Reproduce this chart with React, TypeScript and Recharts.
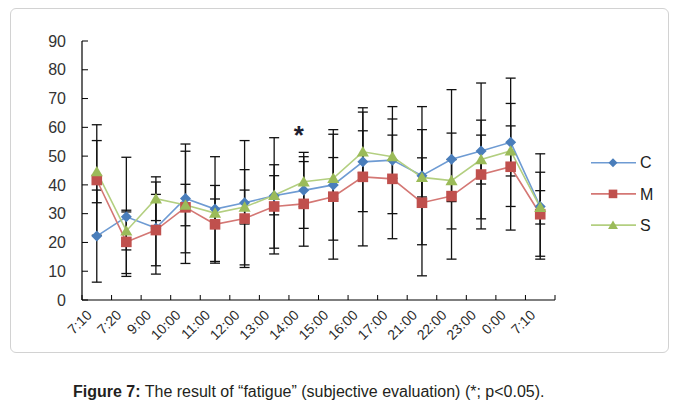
import React from 'react';
import { LineChart, Line, XAxis, YAxis, ErrorBar, ReferenceDot } from 'recharts';

const timeLabels = ['7:10', '7:20', '9:00', '10:00', '11:00', '12:00', '13:00', '14:00', '15:00', '16:00', '17:00', '21:00', '22:00', '23:00', '0:00', '7:10'];
const cMean = [22.2, 28.9, 25.0, 35.3, 31.6, 33.8, 36.2, 38.1, 40.0, 48.0, 48.6, 43.2, 48.9, 51.8, 54.8, 32.5];
const cSD = [16.0, 20.7, 16.0, 18.9, 18.2, 21.6, 20.2, 13.2, 19.2, 17.3, 18.6, 24.0, 24.2, 23.6, 22.3, 18.3];
const mMean = [41.7, 20.2, 24.3, 32.2, 26.3, 28.3, 32.5, 33.4, 35.9, 42.8, 42.1, 33.8, 36.1, 43.6, 46.3, 29.8];
const mSD = [19.2, 11.0, 12.4, 19.5, 13.5, 17.0, 14.5, 14.7, 21.7, 24.0, 20.8, 25.4, 21.9, 18.9, 22.0, 14.6];
const sMean = [44.6, 24.0, 35.2, 33.0, 30.2, 32.3, 36.4, 41.1, 42.3, 51.5, 49.8, 42.6, 41.5, 48.8, 51.8, 32.2];
const sSD = [10.8, 6.6, 7.6, 7.2, 4.9, 5.9, 6.8, 8.7, 7.2, 7.3, 7.5, 6.8, 7.3, 8.5, 8.7, 5.8];
const yTicks = [0, 10, 20, 30, 40, 50, 60, 70, 80, 90];
const significantTime = '14:00';
const significantMarkY = 58.5;
const seriesNames = ['C', 'M', 'S'];

const data = timeLabels.map((t, i) => ({
  t,
  c: cMean[i], cErr: cSD[i],
  m: mMean[i], mErr: mSD[i],
  s: sMean[i], sErr: sSD[i],
}));

const PLOT_W = 473;
const BAND = PLOT_W / timeLabels.length;

const C_MARK = '#4a7ebb';
const C_LINE = '#6e9bd3';
const M_MARK = '#c0504d';
const M_LINE = '#d47774';
const S_MARK = '#9bbb59';
const S_LINE = '#b3cf80';

const diamond = (cx: number, cy: number, r: number, fill: string, key?: string) => (
  <path key={key} d={`M${cx},${cy - r}L${cx + r},${cy}L${cx},${cy + r}L${cx - r},${cy}Z`} fill={fill} />
);
const square = (cx: number, cy: number, r: number, fill: string, key?: string) => (
  <rect key={key} x={cx - r} y={cy - r} width={2 * r} height={2 * r} fill={fill} />
);
const triangle = (cx: number, cy: number, r: number, fill: string, key?: string) => (
  <path key={key} d={`M${cx},${cy - r * 1.05}L${cx + r * 1.1},${cy + r * 0.85}L${cx - r * 1.1},${cy + r * 0.85}Z`} fill={fill} />
);

const XTick = (props: any) => {
  const { x, y, payload, index } = props;
  const left = x - BAND / 2;
  const right = x + BAND / 2;
  const ax = x - 4;
  const ay = y + 16;
  return (
    <g>
      <line x1={left} x2={left} y1={y} y2={y - 5} stroke="#000" strokeWidth={1} />
      {index === timeLabels.length - 1 ? (
        <line x1={right} x2={right} y1={y} y2={y - 5} stroke="#000" strokeWidth={1} />
      ) : null}
      <text x={ax} y={ay} textAnchor="end" fontSize={14} fill="#2a2a2a" fontFamily="Liberation Sans, Arial, sans-serif"
        transform={`rotate(-45 ${ax} ${ay})`}>
        {payload.value}
      </text>
    </g>
  );
};

const starShape = (p: any) => (
  Number.isFinite(p.cx) && p.cx > 0 ? (
    <text x={p.cx - 5} y={p.cy + 12} textAnchor="middle" fontSize={26} fontWeight="bold" fill="#1e1e30"
      fontFamily="Liberation Sans, Arial, sans-serif">*</text>
  ) : <g />
);

export default function App() {
  const legendItems = [
    { name: seriesNames[0], line: C_LINE, mark: (x: number, y: number) => diamond(x, y, 4.5, C_MARK) },
    { name: seriesNames[1], line: M_LINE, mark: (x: number, y: number) => square(x, y, 4.3, M_MARK) },
    { name: seriesNames[2], line: S_LINE, mark: (x: number, y: number) => triangle(x, y, 4.5, S_MARK) },
  ];
  const sigIndex = timeLabels.indexOf(significantTime);
  return (
    <div style={{ position: 'absolute', left: 0, top: 0, width: 677, height: 408, background: '#fff', fontFamily: 'Liberation Sans, Arial, sans-serif', overflow: 'hidden' }}>
      <div style={{ position: 'absolute', left: 10, top: 8, width: 657, height: 343, border: '1px solid #d2d2d2', borderRadius: 6 }} />
      <div style={{ position: 'absolute', left: 0, top: 0 }}>
        <LineChart width={677} height={408} data={data} margin={{ top: 41, right: 122, bottom: 48, left: 22 }}>
          <XAxis dataKey="t" interval={0} height={60} padding={{ left: BAND / 2, right: BAND / 2 }}
            axisLine={{ stroke: '#000', strokeWidth: 1.2 }} tickLine={false} tickSize={0} tickMargin={0} tick={<XTick />} />
          <YAxis domain={[0, 90]} ticks={yTicks} interval={0} width={60}
            tickSize={-6} tickMargin={22} axisLine={{ stroke: '#000', strokeWidth: 1.2 }} tickLine={{ stroke: '#000' }}
            tick={{ fontSize: 16, fill: '#333', fontFamily: 'Liberation Sans, Arial, sans-serif' }} />
          <Line dataKey="c" stroke="none" dot={false} activeDot={false} isAnimationActive={false}>
            <ErrorBar dataKey="cErr" direction="y" width={5} stroke="#111" strokeWidth={1.3} />
          </Line>
          <Line dataKey="m" stroke="none" dot={false} activeDot={false} isAnimationActive={false}>
            <ErrorBar dataKey="mErr" direction="y" width={5} stroke="#111" strokeWidth={1.3} />
          </Line>
          <Line dataKey="s" stroke="none" dot={false} activeDot={false} isAnimationActive={false}>
            <ErrorBar dataKey="sErr" direction="y" width={5} stroke="#111" strokeWidth={1.3} />
          </Line>
          <Line type="linear" dataKey="c" name="C" stroke={C_LINE} strokeWidth={1.6} isAnimationActive={false}
            activeDot={false}
            dot={(p: any) => diamond(p.cx, p.cy, 5.5, C_MARK, `c-${p.index}`)} />
          <Line type="linear" dataKey="m" name="M" stroke={M_LINE} strokeWidth={1.6} isAnimationActive={false}
            activeDot={false}
            dot={(p: any) => square(p.cx, p.cy, 5.3, M_MARK, `m-${p.index}`)} />
          <Line type="linear" dataKey="s" name="S" stroke={S_LINE} strokeWidth={1.6} isAnimationActive={false}
            activeDot={false}
            dot={(p: any) => triangle(p.cx, p.cy, 5.5, S_MARK, `s-${p.index}`)} />
          <ReferenceDot x={sigIndex} y={significantMarkY} r={3} ifOverflow="visible" shape={starShape} />
        </LineChart>
      </div>
      <svg style={{ position: 'absolute', left: 580, top: 140 }} width={90} height={100}>
        {legendItems.map((it, i) => {
          const y = 22.7 + i * 31.2;
          return (
            <g key={it.name}>
              <line x1={11} x2={56} y1={y} y2={y} stroke={it.line} strokeWidth={1.6} />
              {it.mark(33, y)}
              <text x={60} y={y + 5.7} fontSize={16} fill="#222" fontFamily="Liberation Sans, Arial, sans-serif">{it.name}</text>
            </g>
          );
        })}
      </svg>
      <div style={{ position: 'absolute', left: 73, top: 382, fontSize: 16, color: '#231f20', whiteSpace: 'nowrap', lineHeight: '20px' }}>
        <b>Figure 7:</b> The result of “fatigue” (subjective evaluation) (*; p&lt;0.05).
      </div>
    </div>
  );
}
